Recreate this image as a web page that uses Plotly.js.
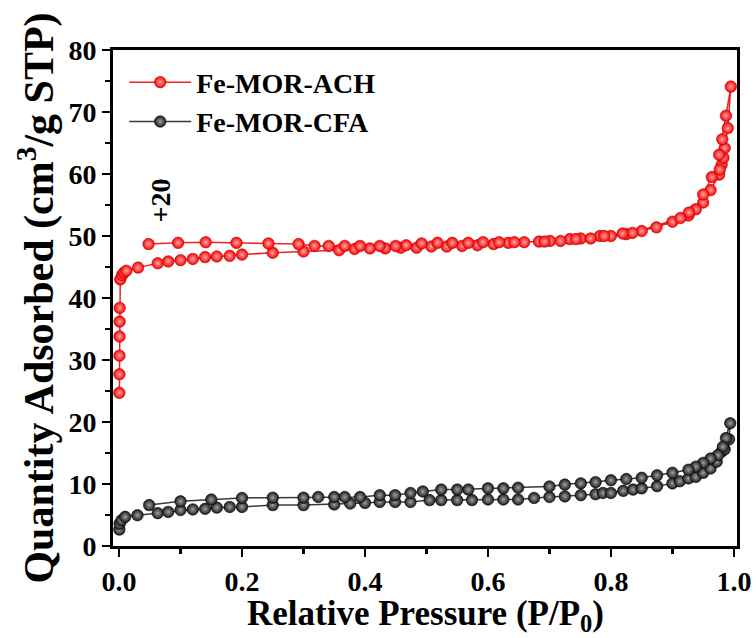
<!DOCTYPE html>
<html>
<head>
<meta charset="utf-8">
<script src="https://cdn.plot.ly/plotly-3.0.1.min.js"></script>
<style>html,body{margin:0;padding:0;background:#fff;}#chart{width:756px;height:638px;}</style>
</head>
<body>
<div id="chart"></div>
<script>
// Fe-MOR-ACH (shown with +20 offset), adsorption then desorption branch
const achAdsX = [0.0005,0.0006,0.0007,0.0008,0.0009,0.001,0.002,0.005,0.008,0.012,0.031,0.063,0.080,0.100,0.120,0.140,0.159,0.180,0.200,0.250,0.300,0.358,0.383,0.408,0.433,0.458,0.484,0.508,0.533,0.558,0.583,0.609,0.633,0.659,0.683,0.701,0.733,0.751,0.782,0.800,0.825,0.850,0.874,0.900,0.926,0.950,0.962,0.976,0.980,0.983,0.985,0.990,0.995];
const achAdsY = [24.7,27.7,30.7,33.8,36.2,38.4,43.0,43.7,44.1,44.4,44.9,45.6,45.9,46.1,46.3,46.6,46.7,46.8,47.0,47.3,47.5,47.7,47.9,48.0,48.0,48.1,48.1,48.3,48.3,48.4,48.5,48.7,48.9,49.0,49.1,49.2,49.5,49.6,50.0,50.0,50.3,50.8,51.4,52.3,53.3,55.4,57.4,59.9,61.5,62.6,64.2,67.4,74.1];
const achDesX = [0.987,0.981,0.976,0.977,0.964,0.950,0.938,0.927,0.913,0.835,0.819,0.789,0.767,0.743,0.718,0.692,0.643,0.618,0.592,0.568,0.542,0.518,0.492,0.467,0.450,0.424,0.392,0.367,0.341,0.318,0.292,0.243,0.191,0.141,0.096,0.048];
const achDesY = [69.4,65.6,63.1,60.7,59.5,56.7,54.3,53.8,52.9,50.5,50.4,50.0,49.6,49.5,49.2,49.1,49.0,49.0,49.0,48.9,48.9,48.9,48.8,48.5,48.4,48.4,48.4,48.4,48.4,48.4,48.7,48.8,48.9,49.0,48.9,48.7];

// Fe-MOR-CFA, adsorption then desorption branch
const cfaAdsX = [0.0005,0.001,0.004,0.010,0.030,0.063,0.080,0.100,0.120,0.140,0.159,0.180,0.200,0.250,0.300,0.350,0.376,0.400,0.424,0.449,0.474,0.505,0.524,0.550,0.574,0.600,0.625,0.649,0.675,0.700,0.725,0.751,0.775,0.787,0.800,0.820,0.836,0.850,0.875,0.900,0.912,0.926,0.938,0.950,0.962,0.972,0.980,0.985,0.992,0.994];
const cfaAdsY = [2.65,3.6,4.15,4.7,4.96,5.3,5.5,5.8,5.9,6.0,6.2,6.3,6.3,6.6,6.6,6.7,6.85,6.95,7.1,7.1,7.1,7.4,7.4,7.4,7.4,7.5,7.5,7.5,7.75,7.9,8.0,8.2,8.35,8.55,8.55,8.9,9.1,9.3,9.65,10.1,10.45,10.9,11.15,11.8,12.5,13.6,15.2,15.6,17.2,19.8];
const cfaDesX = [0.987,0.982,0.974,0.962,0.950,0.938,0.926,0.900,0.875,0.850,0.825,0.800,0.775,0.751,0.725,0.700,0.649,0.625,0.600,0.568,0.550,0.524,0.494,0.474,0.449,0.424,0.392,0.367,0.350,0.324,0.300,0.250,0.200,0.150,0.100,0.049];
const cfaDesY = [17.4,16.0,14.65,14.1,13.4,12.8,12.3,11.8,11.4,11.0,10.8,10.6,10.3,10.1,9.9,9.6,9.4,9.3,9.3,9.1,9.1,9.1,8.8,8.55,8.2,8.2,7.9,7.9,7.9,7.9,7.8,7.8,7.75,7.5,7.2,6.6];

const seriesNames = ['Fe-MOR-ACH', 'Fe-MOR-CFA'];
const xTitle = 'Relative Pressure (P/P<sub>0</sub>)';
const yTitle = 'Quantity Adsorbed (cm<sup>3</sup>/g STP)';
const offsetLabel = '+20';
const offsetPos = [0.068, 55.7];

const serif = 'Liberation Serif, Times New Roman, serif';

const traces = [
  {
    x: achAdsX.concat(achDesX), y: achAdsY.concat(achDesY),
    name: seriesNames[0], type: 'scatter', mode: 'lines+markers',
    line: {color: '#ee2222', width: 1.5},
    marker: {size: 11.5, color: '#ff0000', line: {color: '#b00000', width: 0.6},
             gradient: {type: 'radial', color: '#ffa8a8'}}
  },
  {
    x: cfaAdsX.concat(cfaDesX), y: cfaAdsY.concat(cfaDesY),
    name: seriesNames[1], type: 'scatter', mode: 'lines+markers',
    line: {color: '#3a3a3a', width: 1.5},
    marker: {size: 11.5, color: '#1a1a1a', line: {color: '#000000', width: 0.6},
             gradient: {type: 'radial', color: '#a0a0a0'}}
  }
];

const axisCommon = {
  showgrid: false, zeroline: false,
  showline: true, linewidth: 3, linecolor: '#000', mirror: true,
  ticks: 'outside', ticklen: 8, tickwidth: 2.5, tickcolor: '#000',
  tickfont: {family: serif, size: 28, color: '#000', weight: 'bold'}
};

const layout = {
  width: 756, height: 638,
  margin: {l: 113, r: 19, t: 50, b: 92},
  paper_bgcolor: '#fff', plot_bgcolor: '#fff',
  showlegend: true,
  legend: {x: 0.018, y: 0.985, xanchor: 'left', yanchor: 'top',
           bgcolor: 'rgba(0,0,0,0)', itemwidth: 62, tracegroupgap: 0,
           font: {family: serif, size: 28, color: '#000', weight: 'bold'}},
  xaxis: Object.assign({}, axisCommon, {
    range: [-0.0098, 1.005], tickmode: 'linear', tick0: 0, dtick: 0.2, tickformat: '.1f',
    minor: {dtick: 0.1, ticks: 'outside', ticklen: 5, tickwidth: 2.5, tickcolor: '#000'}
  }),
  yaxis: Object.assign({}, axisCommon, {
    range: [0, 80], tickmode: 'linear', tick0: 0, dtick: 10,
    minor: {dtick: 5, ticks: 'outside', ticklen: 5, tickwidth: 2.5, tickcolor: '#000'},
    title: {text: yTitle, standoff: 2,
            font: {family: serif, size: 42, color: '#000', weight: 'bold'}}
  }),
  annotations: [
    {
      x: offsetPos[0], y: offsetPos[1], xref: 'x', yref: 'y', text: offsetLabel,
      showarrow: false, textangle: -90,
      font: {family: serif, size: 28, color: '#000', weight: 'bold'}
    },
    {
      x: 0.5, y: -92 / 496, xref: 'paper', yref: 'paper', xanchor: 'center', yanchor: 'bottom',
      text: xTitle, showarrow: false, borderpad: 0,
      font: {family: serif, size: 35, color: '#000', weight: 'bold'}
    }
  ]
};

Plotly.newPlot('chart', traces, layout, {displayModeBar: false, staticPlot: true});
</script>
</body>
</html>
